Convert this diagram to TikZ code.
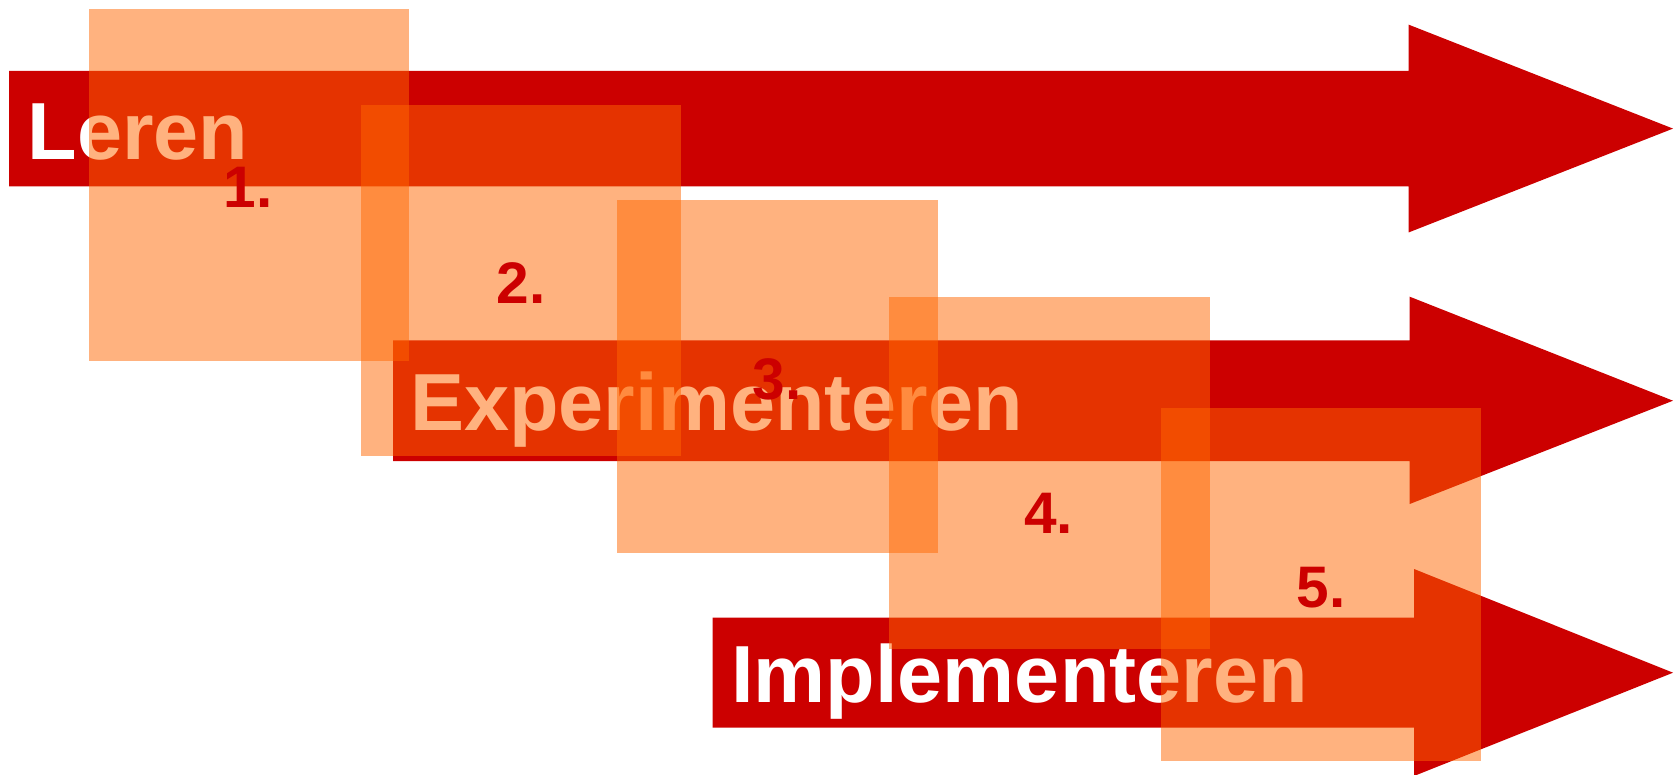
\documentclass[tikz,border=0pt]{standalone}
\usepackage{fontspec}
\setmainfont{Liberation Sans}
\definecolor{arrowred}{HTML}{CC0000}
\definecolor{boxorange}{HTML}{FF6600}
\begin{document}
\begin{tikzpicture}[x=0.5pt,y=-0.5pt,
  arrowshape/.style={fill=arrowred},
  labeltext/.style={text=white,font=\fontsize{40.5}{40.5}\selectfont\bfseries,inner sep=0,anchor=base west},
  sq/.style={fill=boxorange,fill opacity=0.5},
  num/.style={text=arrowred,font=\fontsize{29.3}{29.3}\selectfont\bfseries,inner sep=0,anchor=base west}]
\useasboundingbox (0,0) rectangle (1680,775);
% arrows
\fill[arrowshape] (9,71) -- (1408.5,71) -- (1408.5,24.6) -- (1673,128.6) -- (1408.5,232.5) -- (1408.5,186.5) -- (9,186.5) -- cycle;
\fill[arrowshape] (393,340.3) -- (1409.7,340.3) -- (1409.7,296.7) -- (1673,400.7) -- (1409.7,504) -- (1409.7,461) -- (393,461) -- cycle;
\fill[arrowshape] (712.5,617.7) -- (1414,617.7) -- (1414,569) -- (1673,672.7) -- (1414,776) -- (1414,727.7) -- (712.5,727.7) -- cycle;
% arrow labels
\node[labeltext] (leren) at (27.5,159.3) {Leren};
\node[labeltext] (exp) at (410,430) {Experimenteren};
\node[labeltext] (impl) at (731,702.5) {Implementeren};
% squares
\fill[sq] (89,8.6) rectangle (409.3,361.1);
\fill[sq] (361,105) rectangle (681.4,456.4);
\fill[sq] (617,200.4) rectangle (937.5,552.9);
\fill[sq] (889,296.8) rectangle (1209.6,648.5);
\fill[sq] (1161.4,408.2) rectangle (1481,760.7);
% numbers
\node[num] (n1) at (223.5,207.3) {1.};
\node[num] (n2) at (496.5,303.3) {2.};
\node[num] (n3) at (752.5,399.3) {3.};
\node[num] (n4) at (1024,533.3) {4.};
\node[num] (n5) at (1296,607.7) {5.};
\end{tikzpicture}
\end{document}
